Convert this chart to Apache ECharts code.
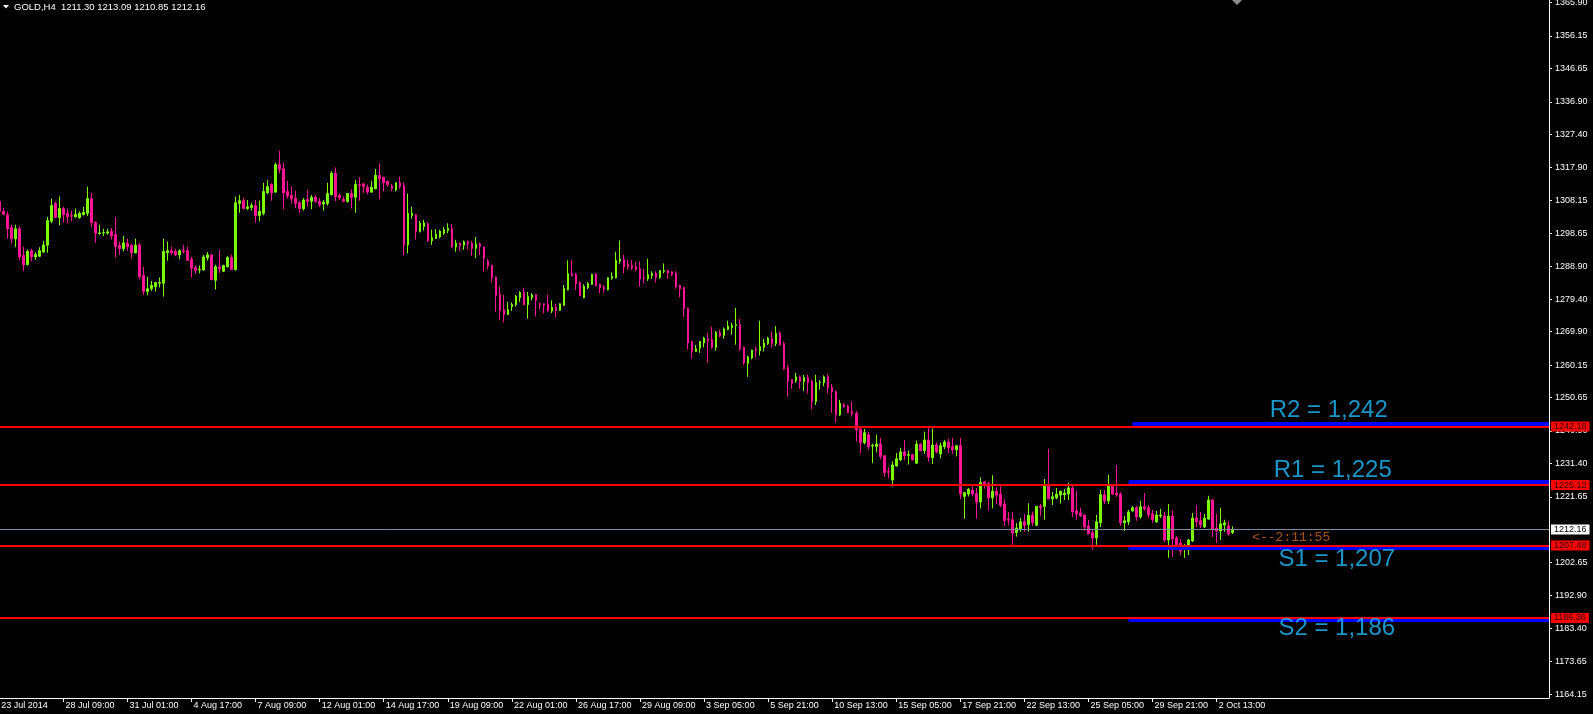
<!DOCTYPE html>
<html><head><meta charset="utf-8">
<script src="https://cdn.jsdelivr.net/npm/echarts@6/dist/echarts.min.js"></script>
<style>html,body{margin:0;padding:0;background:#000;}#c{width:1593px;height:714px;}</style>
</head><body><div id="c"></div>
<script>
// ---- DATA (GOLD H4) ----
const opens = [1307.9,1305.0,1304.0,1300.3,1297.0,1299.9,1292.1,1289.4,1293.5,1291.7,1291.9,1293.1,1295.1,1302.1,1307.3,1303.2,1305.8,1304.4,1303.7,1303.4,
1303.2,1304.0,1304.4,1308.7,1301.7,1298.5,1298.7,1298.6,1299.1,1298.2,1295.1,1294.1,1295.6,1295.1,1292.9,1295.2,1286.3,1281.6,1282.4,1283.0,
1284.0,1284.0,1292.9,1293.5,1293.3,1292.3,1293.5,1293.5,1291.0,1288.6,1287.9,1287.9,1291.4,1292.3,1284.9,1288.8,1287.5,1288.8,1291.5,1288.0,
1307.3,1308.1,1305.8,1306.1,1306.7,1303.8,1304.4,1310.4,1312.8,1310.6,1318.6,1317.4,1310.8,1309.7,1308.7,1307.5,1305.8,1308.5,1307.9,1309.1,
1307.9,1307.1,1307.3,1309.8,1316.1,1309.7,1308.5,1307.9,1310.2,1309.1,1312.8,1313.0,1312.0,1310.6,1311.6,1315.5,1314.9,1313.7,1312.4,1311.2,
1313.3,1312.6,1295.2,1303.8,1304.0,1299.1,1300.6,1301.3,1296.4,1297.1,1297.5,1298.6,1299.4,1300.0,1294.6,1295.7,1295.1,1296.1,1295.7,1294.2,
1295.5,1294.6,1290.5,1289.3,1285.8,1280.7,1276.3,1274.9,1277.2,1277.8,1279.8,1281.3,1277.8,1279.8,1280.7,1278.0,1278.0,1277.8,1275.9,1276.9,
1276.1,1277.6,1282.1,1286.8,1286.6,1284.2,1279.8,1282.7,1283.7,1286.6,1283.7,1282.9,1282.1,1285.4,1285.6,1290.5,1290.9,1289.6,1289.2,1288.8,
1288.2,1285.6,1285.3,1286.3,1286.9,1285.7,1287.5,1287.7,1287.3,1286.9,1283.4,1282.8,1276.6,1267.0,1264.1,1265.1,1266.6,1267.8,1267.6,1265.3,
1269.6,1268.8,1270.5,1271.1,1271.7,1271.9,1265.3,1260.6,1262.2,1264.7,1264.3,1265.3,1266.4,1267.8,1266.4,1269.4,1266.4,1259.4,1255.9,1255.5,
1256.7,1255.3,1256.5,1255.3,1249.5,1255.0,1255.0,1256.7,1253.6,1252.4,1245.6,1248.6,1248.2,1246.5,1246.1,1241.5,1237.5,1239.8,1236.5,1236.4,
1237.1,1233.7,1229.1,1226.6,1230.7,1232.5,1234.8,1233.8,1234.0,1231.5,1237.1,1235.2,1238.3,1233.1,1236.8,1234.2,1236.4,1237.7,1236.4,1235.4,
1236.6,1221.8,1222.5,1223.7,1222.7,1220.2,1226.1,1225.5,1221.4,1223.3,1222.5,1219.6,1215.2,1215.0,1211.3,1212.4,1214.4,1213.6,1216.3,1213.4,
1219.0,1218.9,1224.9,1221.1,1221.4,1222.2,1222.3,1222.5,1224.3,1217.6,1217.0,1216.4,1213.2,1211.2,1209.7,1214.1,1222.3,1220.5,1224.9,1222.8,
1222.5,1214.1,1214.4,1217.6,1218.5,1215.8,1218.8,1218.5,1216.7,1214.4,1216.1,1216.1,1209.1,1216.1,1209.7,1208.2,1206.5,1206.2,1208.8,1215.5,
1214.7,1212.9,1215.2,1220.8,1212.6,1211.7,1213.5,1213.2,1211.30];
const highs = [1308.4,1306.0,1305.0,1301.1,1301.1,1300.7,1294.7,1293.9,1294.1,1293.1,1294.5,1296.4,1303.4,1308.7,1307.9,1309.3,1306.3,1305.8,1305.2,1305.8,
1305.0,1306.3,1312.2,1310.4,1302.1,1301.1,1299.9,1299.9,1300.1,1303.4,1296.2,1297.8,1297.0,1295.4,1297.0,1295.8,1288.8,1285.9,1284.7,1284.2,
1285.7,1297.0,1296.2,1294.7,1294.1,1293.9,1295.2,1294.7,1291.7,1289.2,1289.2,1292.3,1293.1,1292.5,1289.4,1293.7,1289.4,1291.9,1292.3,1309.3,
1309.8,1308.9,1308.3,1307.5,1308.3,1308.1,1313.3,1314.1,1313.2,1319.2,1322.7,1319.2,1313.9,1312.2,1311.0,1308.1,1308.9,1311.2,1309.7,1309.7,
1308.9,1308.3,1313.3,1316.7,1317.8,1310.2,1309.3,1310.3,1311.4,1314.1,1314.9,1313.3,1312.8,1313.9,1317.4,1319.0,1315.1,1314.1,1313.0,1313.5,
1315.1,1313.5,1310.2,1306.3,1304.2,1302.2,1302.5,1301.9,1299.6,1299.8,1299.6,1300.4,1301.5,1301.3,1296.7,1295.9,1296.5,1296.5,1296.3,1297.5,
1295.9,1294.7,1291.1,1289.4,1286.0,1283.1,1280.6,1278.6,1278.4,1280.6,1281.7,1282.7,1281.5,1281.1,1280.8,1278.4,1278.1,1280.7,1279.0,1278.0,
1278.1,1283.5,1290.7,1290.9,1287.0,1284.6,1283.7,1284.4,1286.8,1287.0,1283.9,1283.5,1285.7,1287.2,1293.2,1296.5,1292.3,1290.8,1290.8,1290.2,
1290.4,1288.2,1291.2,1287.5,1287.5,1287.8,1289.8,1288.0,1287.5,1287.5,1283.6,1282.9,1276.9,1267.1,1266.0,1267.2,1268.4,1269.6,1271.3,1270.1,
1270.3,1271.1,1273.1,1272.5,1276.8,1273.6,1265.5,1262.9,1264.6,1265.5,1273.1,1267.8,1268.4,1269.9,1271.5,1269.9,1267.0,1260.2,1256.0,1257.9,
1257.1,1257.3,1257.3,1255.9,1257.3,1255.7,1257.1,1257.5,1254.6,1252.7,1250.0,1249.0,1248.6,1249.6,1246.7,1241.6,1241.5,1240.6,1237.2,1239.8,
1238.9,1233.9,1230.4,1232.0,1234.5,1236.0,1238.3,1235.2,1234.2,1238.1,1237.3,1240.7,1241.8,1241.6,1237.5,1237.5,1238.3,1238.7,1238.9,1236.8,
1238.9,1223.1,1224.3,1224.9,1224.3,1227.4,1226.2,1226.1,1228.0,1224.5,1224.9,1221.0,1217.3,1217.3,1214.0,1215.5,1216.7,1219.8,1217.3,1219.0,
1219.6,1226.9,1235.7,1223.1,1224.3,1223.5,1224.0,1225.8,1224.9,1223.4,1218.5,1216.5,1215.0,1212.3,1216.4,1223.7,1223.7,1228.1,1225.2,1231.0,
1223.1,1216.1,1217.9,1219.0,1219.0,1220.5,1222.8,1219.3,1217.9,1217.6,1218.2,1217.3,1219.6,1217.9,1210.3,1209.4,1207.9,1209.4,1217.0,1219.3,
1217.3,1216.7,1222.0,1220.9,1216.7,1218.5,1215.0,1214.7,1213.09];
const lows = [1304.7,1303.9,1297.0,1295.6,1294.5,1290.8,1287.5,1289.3,1290.4,1290.8,1291.7,1292.9,1292.9,1301.5,1303.0,1300.9,1301.7,1301.5,1302.1,1303.2,
1302.8,1303.8,1303.6,1300.3,1295.8,1298.2,1297.8,1298.2,1296.8,1291.5,1292.3,1293.3,1293.5,1291.2,1292.7,1285.1,1280.6,1280.5,1281.8,1281.6,
1282.8,1280.1,1290.6,1292.3,1291.9,1291.0,1292.7,1290.6,1285.7,1286.7,1286.9,1287.7,1290.6,1284.9,1282.2,1286.9,1287.3,1288.6,1287.9,1287.7,
1304.6,1305.7,1305.4,1305.2,1301.7,1302.1,1303.8,1310.0,1308.1,1310.4,1316.1,1305.6,1308.7,1307.3,1305.9,1304.6,1305.2,1306.3,1305.6,1307.5,
1306.3,1305.2,1306.7,1309.7,1307.9,1308.3,1307.8,1307.5,1305.8,1304.6,1308.1,1310.4,1310.0,1310.4,1311.4,1308.5,1310.8,1312.2,1310.8,1310.8,
1311.6,1292.1,1292.7,1302.8,1296.8,1298.8,1299.4,1296.0,1295.2,1296.9,1297.1,1298.1,1298.6,1294.4,1293.2,1293.4,1293.8,1293.8,1292.0,1291.3,
1292.2,1287.4,1288.1,1284.2,1275.7,1273.3,1272.6,1274.7,1275.9,1277.2,1278.6,1277.6,1273.7,1279.0,1274.3,1276.5,1275.3,1275.7,1275.3,1274.1,
1275.9,1277.4,1281.9,1286.0,1282.1,1280.3,1279.6,1282.3,1283.5,1283.1,1281.1,1281.3,1281.9,1285.0,1285.4,1289.7,1286.9,1288.0,1287.8,1287.5,
1283.0,1284.0,1284.7,1285.3,1284.2,1285.3,1286.9,1285.3,1286.1,1282.4,1279.9,1274.2,1264.7,1262.0,1264.0,1263.7,1265.3,1260.8,1264.9,1264.3,
1268.2,1267.8,1270.3,1269.0,1266.1,1264.3,1260.2,1256.7,1261.8,1262.3,1262.9,1264.1,1266.0,1265.3,1265.7,1265.9,1258.8,1250.9,1253.2,1255.0,
1253.2,1252.6,1251.8,1247.2,1248.5,1253.0,1254.0,1251.8,1246.2,1243.4,1245.3,1247.8,1246.1,1245.1,1237.8,1234.4,1237.0,1235.4,1231.5,1234.6,
1232.7,1227.6,1227.1,1224.7,1230.5,1232.1,1232.5,1231.1,1232.3,1231.3,1235.0,1234.2,1231.9,1231.3,1234.4,1232.9,1235.6,1234.4,1234.2,1233.5,
1221.0,1215.3,1221.8,1221.8,1215.3,1218.3,1224.1,1217.7,1218.3,1219.6,1218.7,1213.2,1213.4,1207.6,1210.1,1211.5,1211.5,1211.5,1213.2,1213.2,
1216.1,1215.0,1221.0,1219.3,1221.0,1219.7,1220.8,1220.8,1215.8,1215.0,1215.8,1211.7,1210.8,1206.2,1207.7,1212.9,1219.6,1219.6,1222.3,1221.7,
1213.2,1211.7,1213.5,1217.3,1214.7,1215.3,1217.6,1215.5,1214.1,1214.1,1215.5,1208.5,1203.9,1204.2,1206.8,1204.7,1203.9,1204.7,1208.5,1212.9,
1212.6,1212.6,1215.0,1210.0,1208.2,1209.1,1211.5,1210.3,1210.85];
const closes = [1305.0,1304.1,1299.9,1297.0,1299.9,1291.7,1289.4,1293.3,1291.7,1292.4,1293.5,1295.2,1302.3,1306.7,1303.2,1305.8,1304.0,1303.4,1303.6,1304.1,
1304.4,1304.7,1308.7,1301.7,1298.6,1298.7,1298.8,1299.0,1297.8,1294.7,1294.1,1295.8,1294.7,1292.9,1295.1,1285.9,1281.6,1282.4,1283.4,1284.2,
1284.2,1293.3,1293.5,1292.9,1292.3,1293.5,1293.3,1290.7,1288.4,1287.8,1288.0,1291.7,1292.3,1285.1,1288.8,1288.2,1289.2,1291.5,1288.0,1307.5,
1308.1,1305.8,1306.3,1306.7,1303.8,1305.0,1310.8,1312.2,1310.4,1318.6,1317.2,1310.4,1309.5,1308.7,1307.3,1305.8,1308.3,1307.9,1309.1,1307.9,
1306.9,1307.7,1310.2,1316.1,1309.3,1308.9,1307.9,1310.2,1309.1,1312.8,1312.6,1312.2,1310.6,1312.0,1315.5,1314.5,1313.3,1312.8,1311.6,1313.3,
1312.2,1295.2,1304.4,1304.4,1299.1,1301.5,1301.6,1296.4,1297.3,1298.3,1299.2,1299.6,1300.0,1294.6,1295.7,1295.0,1296.1,1295.5,1294.2,1295.5,
1294.7,1291.3,1289.1,1285.6,1280.4,1276.1,1274.9,1276.3,1277.8,1280.2,1281.3,1277.8,1280.2,1280.6,1279.0,1277.8,1277.6,1276.1,1276.9,1276.1,
1278.0,1282.5,1286.8,1286.2,1283.9,1280.4,1283.1,1283.9,1286.6,1283.3,1282.7,1282.3,1285.6,1286.0,1290.7,1291.1,1288.8,1288.8,1288.5,1288.1,
1285.3,1285.4,1286.5,1286.9,1285.7,1287.7,1287.7,1286.9,1286.5,1283.0,1282.4,1276.6,1266.6,1264.1,1264.9,1267.0,1268.0,1267.2,1265.3,1269.6,
1268.6,1270.7,1271.5,1271.7,1271.9,1264.9,1260.8,1262.5,1264.5,1264.4,1265.5,1266.6,1268.0,1266.4,1269.4,1266.0,1259.0,1255.5,1254.8,1256.7,
1255.3,1256.5,1255.0,1249.5,1255.0,1255.2,1256.7,1253.6,1252.4,1245.6,1249.0,1247.9,1246.3,1245.9,1241.2,1237.5,1240.4,1236.4,1236.7,1237.1,
1233.5,1228.8,1228.9,1231.0,1232.8,1234.8,1233.7,1234.0,1232.5,1237.1,1235.2,1238.3,1233.3,1236.8,1234.8,1236.6,1237.7,1236.0,1235.4,1236.6,
1222.5,1222.9,1223.9,1222.5,1220.2,1225.9,1225.1,1221.4,1223.3,1222.2,1219.2,1214.8,1214.9,1211.1,1212.6,1214.4,1213.4,1216.3,1214.2,1218.9,
1218.5,1224.9,1221.1,1221.7,1222.5,1223.3,1222.8,1224.3,1217.3,1216.7,1216.1,1212.9,1210.9,1209.7,1214.4,1222.3,1220.5,1224.9,1222.5,1222.3,
1214.1,1214.7,1217.3,1218.5,1215.8,1218.8,1218.2,1216.4,1215.0,1216.4,1216.4,1209.1,1216.1,1209.4,1207.7,1205.9,1206.8,1209.1,1215.5,1214.4,
1213.5,1215.5,1220.8,1212.3,1211.7,1213.8,1214.1,1210.9,1212.16];

const tickLabels = ['23 Jul 2014','28 Jul 09:00','31 Jul 01:00','4 Aug 17:00','7 Aug 09:00','12 Aug 01:00','14 Aug 17:00','19 Aug 09:00','22 Aug 01:00','26 Aug 17:00','29 Aug 09:00','3 Sep 05:00','5 Sep 21:00','10 Sep 13:00','15 Sep 05:00','17 Sep 21:00','22 Sep 13:00','25 Sep 05:00','29 Sep 21:00','2 Oct 13:00'];
const priceTicks = [1365.90,1356.15,1346.65,1336.90,1327.40,1317.90,1308.15,1298.65,1288.90,1279.40,1269.90,1260.15,1250.65,1240.90,1231.40,1221.65,1202.65,1192.90,1183.40,1173.65,1164.15];

// horizontal levels (red lines) and pivot bands (blue)
const levelNames = ['R2','R1','S1','S2'];
const levelPrices = [1242.18,1225.12,1207.48,1186.36];
const bandPrices = [1243.1,1226.05,1206.7,1185.6];
const bandStart = [283,282,282,282];
const bandWidths = [4,4,3,3];
const levelTexts = ['R2 = 1,242','R1 = 1,225','S1 = 1,207','S2 = 1,186'];
const levelTextPrices = [1247.0,1229.4,1203.5,1183.3];
const levelTextIdx = [332,333,334,334];
const bidPrice = 1212.16;
const timerText = '<--2:11:55';
const timerIdx = 313, timerPrice = 1209.7;

// ---- CHART ----
const SLOTS = 388;
const cats = Array.from({length: SLOTS}, (_, i) => String(i));
const candles = opens.map((o, i) => [o, closes[i], lows[i], highs[i]]);
const last = opens.length - 1;
const tickOn = (idx) => idx % 16 === 0 && idx / 16 < tickLabels.length;

const mlData = [];
bandPrices.forEach((p, k) => {
  mlData.push([{coord: [bandStart[k], p], lineStyle: {color: '#0000ff', width: bandWidths[k], type: 'solid'}, label: {show: false}},
               {coord: [SLOTS - 1, p]}]);
});
mlData.push({yAxis: bidPrice, lineStyle: {color: '#7d8ba0', width: 1, type: 'solid'},
  label: {show: true, position: 'end', distance: 2, formatter: p => p.value.toFixed(2), color: '#000', backgroundColor: '#ffffff', padding: [1, 3, 0, 3], fontSize: 9, fontFamily: 'Liberation Sans'}});
levelPrices.forEach(p => {
  mlData.push({yAxis: p, lineStyle: {color: '#ff0000', width: 2, type: 'solid'},
    label: {show: true, position: 'end', distance: 2, formatter: q => q.value.toFixed(2), color: '#300000', backgroundColor: '#ff0000', padding: [1, 3, 0, 3], fontSize: 9, fontFamily: 'Liberation Sans'}});
});

const chart = echarts.init(document.getElementById('c'), null, {renderer: 'canvas'});
chart.setOption({
  animation: false,
  backgroundColor: '#000000',
  grid: {left: -0.67, right: 44, top: 0, bottom: 16, outerBoundsMode: 'none', containLabel: false},
  xAxis: {
    type: 'category', data: cats, boundaryGap: false,
    axisLine: {show: true, lineStyle: {color: '#ffffff', width: 1}},
    axisTick: {show: true, interval: tickOn, length: 4, lineStyle: {color: '#ffffff'}},
    axisLabel: {interval: tickOn, formatter: (v, idx) => tickLabels[Math.round(idx / 16)] || '', color: '#ffffff', fontSize: 9, fontFamily: 'Liberation Sans', align: 'left', margin: 3, padding: [0, 0, 0, 2]},
    splitLine: {show: false}
  },
  yAxis: {
    type: 'value', position: 'right', min: 1163.0, max: 1366.65,
    axisLine: {show: true, lineStyle: {color: '#ffffff', width: 1}},
    axisTick: {show: true, length: 3, customValues: priceTicks, lineStyle: {color: '#ffffff'}},
    axisLabel: {customValues: priceTicks, formatter: v => Number(v).toFixed(2), color: '#ffffff', fontSize: 9, fontFamily: 'Liberation Sans', margin: 6},
    splitLine: {show: false}
  },
  series: [
    {
      type: 'candlestick', data: candles, barWidth: 2, z: 2,
      itemStyle: {color: '#7cfc00', color0: '#ff1493', borderColor: '#7cfc00', borderColor0: '#ff1493', borderWidth: 1},
      emphasis: {disabled: true}
    },
    {
      type: 'line', data: [], z: 4, silent: true,
      markLine: {silent: true, symbol: ['none', 'none'], animation: false, data: mlData}
    },
    {
      type: 'scatter', z: 5, silent: true, symbolSize: 1,
      itemStyle: {color: 'rgba(0,0,0,0)'},
      data: levelTexts.map((t, k) => ({value: [levelTextIdx[k], levelTextPrices[k]], name: t})),
      label: {show: true, position: 'inside', formatter: p => p.name, color: '#22bcfa', fontSize: 24, fontFamily: 'Liberation Sans'}
    },
    {
      type: 'scatter', z: 5, silent: true, symbolSize: 1,
      itemStyle: {color: 'rgba(0,0,0,0)'},
      data: [{value: [timerIdx, timerPrice], name: timerText}],
      label: {show: true, position: [0, 0], align: 'left', verticalAlign: 'middle', formatter: p => p.name, color: '#d2691e', fontSize: 13, fontFamily: 'Liberation Mono'}
    }
  ],
  graphic: [
    {type: 'polygon', shape: {points: [[3, 5], [9, 5], [6, 8.5]]}, style: {fill: '#ffffff'}},
    {type: 'text', left: 14, top: 2, style: {text: 'GOLD,H4  ' + [opens[last], highs[last], lows[last], closes[last]].map(v => v.toFixed(2)).join(' '), fill: '#ffffff', font: '9.5px "Liberation Sans"'}},
    {type: 'polygon', shape: {points: [[1232, 0], [1242, 0], [1237, 5]]}, style: {fill: '#8c8c8c'}}
  ]
});
</script>
</body></html>
